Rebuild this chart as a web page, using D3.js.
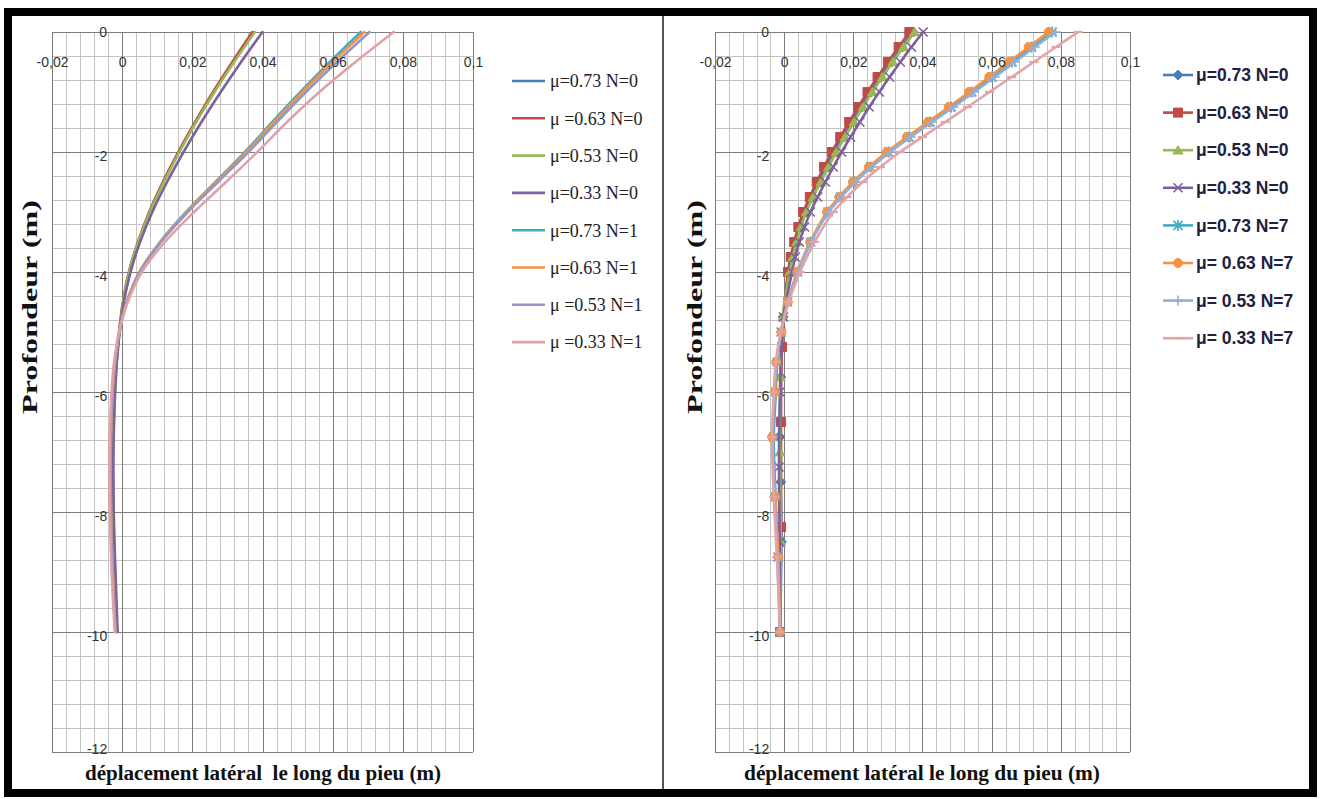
<!DOCTYPE html>
<html>
<head>
<meta charset="utf-8">
<script src="https://cdn.jsdelivr.net/npm/d3@7"></script>
<style>
  html, body { margin: 0; padding: 0; background: #fff; }
  svg { display: block; }
  text { white-space: pre; }
</style>
</head>
<body>
<svg id="chart" width="1321" height="799"></svg>
<script>
// ---------- Axis ticks ----------
const xTickValues = [-0.02, 0, 0.02, 0.04, 0.06, 0.08, 0.1];
const xTickLabels = ["-0,02", "0", "0,02", "0,04", "0,06", "0,08", "0,1"];
const yTickValues = [0, -2, -4, -6, -8, -10, -12];
const yTickLabels = ["0", "-2", "-4", "-6", "-8", "-10", "-12"];

// ---------- Left chart: N = 0 and N = 1 (depth in m, displacement in m) ----------
const leftDepth = [0, -0.5, -1, -1.5, -2, -2.5, -3, -3.5, -4, -4.5, -5, -5.5, -6, -6.5, -7, -7.5, -8, -8.5, -9, -9.5, -10];
const leftLabels = ["μ=0.73 N=0", "μ =0.63 N=0", "μ=0.53 N=0", "μ=0.33 N=0", "μ=0.73 N=1", "μ=0.63 N=1", "μ =0.53 N=1", "μ =0.33 N=1"];
const leftColors = ["#4A7EBB", "#BE4B48", "#98B954", "#7D60A0", "#46AAC5", "#F69240", "#9397C2", "#E3A0A6"];
const l073N0 = [0.0375, 0.0317, 0.0262, 0.0210, 0.0162, 0.0118, 0.0079, 0.0046, 0.0020, 0.0003, -0.0008, -0.0016, -0.0021, -0.0024, -0.0026, -0.0026, -0.0025, -0.0023, -0.0021, -0.0018, -0.0015];
const l063N0 = [0.0371, 0.0314, 0.0259, 0.0208, 0.0160, 0.0116, 0.0077, 0.0045, 0.0019, 0.0002, -0.0009, -0.0017, -0.0022, -0.0025, -0.0027, -0.0027, -0.0026, -0.0024, -0.0021, -0.0018, -0.0015];
const l053N0 = [0.0378, 0.0319, 0.0263, 0.0211, 0.0163, 0.0119, 0.0079, 0.0046, 0.0020, 0.0003, -0.0008, -0.0016, -0.0021, -0.0025, -0.0027, -0.0027, -0.0026, -0.0024, -0.0021, -0.0018, -0.0015];
const l033N0 = [0.0400, 0.0339, 0.0281, 0.0226, 0.0175, 0.0128, 0.0086, 0.0051, 0.0024, 0.0005, -0.0007, -0.0015, -0.0020, -0.0023, -0.0025, -0.0025, -0.0024, -0.0022, -0.0019, -0.0016, -0.0013];
const l073N1 = [0.0680, 0.0592, 0.0508, 0.0428, 0.0350, 0.0266, 0.0182, 0.0108, 0.0049, 0.0013, -0.0008, -0.0020, -0.0027, -0.0031, -0.0033, -0.0033, -0.0032, -0.0030, -0.0027, -0.0023, -0.0019];
const l063N1 = [0.0690, 0.0600, 0.0514, 0.0433, 0.0354, 0.0269, 0.0184, 0.0109, 0.0050, 0.0013, -0.0008, -0.0020, -0.0027, -0.0031, -0.0033, -0.0033, -0.0032, -0.0030, -0.0027, -0.0023, -0.0019];
const l053N1 = [0.0705, 0.0612, 0.0524, 0.0441, 0.0360, 0.0273, 0.0187, 0.0111, 0.0051, 0.0014, -0.0008, -0.0021, -0.0028, -0.0032, -0.0034, -0.0034, -0.0033, -0.0031, -0.0028, -0.0024, -0.0020];
const l033N1 = [0.0774, 0.0665, 0.0562, 0.0470, 0.0385, 0.0296, 0.0205, 0.0122, 0.0056, 0.0016, -0.0009, -0.0023, -0.0030, -0.0034, -0.0036, -0.0036, -0.0035, -0.0033, -0.0030, -0.0026, -0.0021];

// ---------- Right chart: N = 0 and N = 7 ----------
const rightLabels = ["μ=0.73 N=0", "μ=0.63 N=0", "μ=0.53 N=0", "μ=0.33 N=0", "μ=0.73 N=7", "μ= 0.63 N=7", "μ= 0.53 N=7", "μ= 0.33 N=7"];
const rightColors = ["#4A7EBB", "#BE4B48", "#98B954", "#7D60A0", "#46AAC5", "#F69240", "#8FB0DC", "#E4A3A6"];
const rightMarkers = ["diamond", "square", "triangle", "x", "star", "circle", "plus", "dash"];

// upper nodes shared by the N=0 runs, lower nodes differ per run
const rDepthN0Top = [0, -0.25, -0.5, -0.75, -1, -1.25, -1.5, -1.75, -2, -2.25, -2.5, -2.75, -3, -3.25, -3.5, -3.75, -4];
const rDepth073N0Tail = [-4.75, -5.75, -6.75, -7.5, -8.5, -10];
const rDepth063N0Tail = [-5.25, -6.5, -8.25, -10];
const rDepth053N0Tail = [-4.75, -5.75, -7, -8.5, -10];
const rDepth033N0Tail = [-4.75, -6, -7.25, -8.5, -10];
const r073N0 = [0.0372, 0.0339, 0.0308, 0.0277, 0.0248, 0.0220, 0.0194, 0.0168, 0.0143, 0.0120, 0.0098, 0.0077, 0.0058, 0.0043, 0.0031, 0.0021, 0.0013,
                -0.0003, -0.0010, -0.0012, -0.0010, -0.0008, -0.0012];
const r063N0 = [0.0362, 0.0331, 0.0300, 0.0270, 0.0241, 0.0214, 0.0188, 0.0162, 0.0138, 0.0115, 0.0094, 0.0074, 0.0055, 0.0041, 0.0029, 0.0019, 0.0011,
                -0.0006, -0.0009, -0.0009, -0.0012];
const r053N0 = [0.0377, 0.0345, 0.0314, 0.0284, 0.0255, 0.0228, 0.0202, 0.0176, 0.0151, 0.0128, 0.0106, 0.0084, 0.0064, 0.0049, 0.0036, 0.0025, 0.0016,
                -0.0004, -0.0011, -0.0012, -0.0010, -0.0012];
const r033N0 = [0.0402, 0.0368, 0.0336, 0.0305, 0.0275, 0.0246, 0.0219, 0.0192, 0.0166, 0.0142, 0.0119, 0.0097, 0.0076, 0.0059, 0.0044, 0.0032, 0.0023,
                -0.0002, -0.0012, -0.0015, -0.0013, -0.0012];

const rDepthN7 = [0, -0.25, -0.5, -0.75, -1, -1.25, -1.5, -1.75, -2, -2.25, -2.5, -2.75, -3,
                  -3.5, -4, -4.5, -5, -5.5, -6, -6.75, -7.75, -8.75, -10];
const r073N7 = [0.0775, 0.0716, 0.0659, 0.0601, 0.0543, 0.0483, 0.0422, 0.0361, 0.0302, 0.0250, 0.0203, 0.0163, 0.0127,
                0.0077, 0.0039, 0.0010, -0.0009, -0.0020, -0.0024, -0.0030, -0.0025, -0.0018, -0.0012];
const r063N7 = [0.0765, 0.0707, 0.0650, 0.0593, 0.0535, 0.0476, 0.0416, 0.0355, 0.0297, 0.0245, 0.0199, 0.0159, 0.0124,
                0.0075, 0.0038, 0.0010, -0.0008, -0.0023, -0.0026, -0.0035, -0.0026, -0.0017, -0.0012];
const r053N7 = [0.0785, 0.0725, 0.0667, 0.0609, 0.0550, 0.0490, 0.0428, 0.0366, 0.0306, 0.0253, 0.0206, 0.0165, 0.0129,
                0.0078, 0.0040, 0.0011, -0.0009, -0.0022, -0.0028, -0.0033, -0.0028, -0.0020, -0.0012];
const r033N7 = [0.0850, 0.0786, 0.0722, 0.0658, 0.0594, 0.0530, 0.0466, 0.0400, 0.0335, 0.0278, 0.0227, 0.0182, 0.0142,
                0.0088, 0.0046, 0.0013, -0.0010, -0.0024, -0.0030, -0.0035, -0.0030, -0.0021, -0.0012];

// ---------- Assemble series ----------
const zip = (depths, values) => values.map((v, i) => ({ d: depths[i], v: v }));

const leftSeries = [l073N0, l063N0, l053N0, l033N0, l073N1, l063N1, l053N1, l033N1].map((vals, i) => ({
  label: leftLabels[i], color: leftColors[i], points: zip(leftDepth, vals)
}));

const rightDepths = [
  rDepthN0Top.concat(rDepth073N0Tail), rDepthN0Top.concat(rDepth063N0Tail),
  rDepthN0Top.concat(rDepth053N0Tail), rDepthN0Top.concat(rDepth033N0Tail),
  rDepthN7, rDepthN7, rDepthN7, rDepthN7
];
const rightSeries = [r073N0, r063N0, r053N0, r033N0, r073N7, r063N7, r053N7, r033N7].map((vals, i) => ({
  label: rightLabels[i], color: rightColors[i], marker: rightMarkers[i], points: zip(rightDepths[i], vals)
}));

// ---------- Drawing ----------
const svg = d3.select("#chart");
svg.append("rect").attr("width", 1321).attr("height", 799).attr("fill", "#fff");

const TICK_FONT = "'Liberation Sans', Arial, sans-serif";
const SERIF = "'Liberation Serif', 'Times New Roman', serif";

function markerPath(type, s) {
  const h = s / 2;
  switch (type) {
    case "diamond":  return `M0,${-h - 0.5}L${h + 0.5},0L0,${h + 0.5}L${-h - 0.5},0Z`;
    case "square":   return `M${-h},${-h}H${h}V${h}H${-h}Z`;
    case "triangle": return `M0,${-h}L${h + 0.5},${h * 0.85}L${-h - 0.5},${h * 0.85}Z`;
    case "x":        return `M${-h},${-h}L${h},${h}M${-h},${h}L${h},${-h}`;
    case "star":     return `M${-h},${-h}L${h},${h}M${-h},${h}L${h},${-h}M0,${-h - 1}V${h + 1}`;
    case "circle":   return `M${h},0A${h},${h} 0 1,1 ${-h},0A${h},${h} 0 1,1 ${h},0Z`;
    case "plus":     return `M${-h - 0.5},0H${h + 0.5}M0,${-h - 0.5}V${h + 0.5}`;
    case "dash":     return `M${-h},0H${h}`;
  }
}
const filledMarkers = new Set(["diamond", "square", "triangle", "circle"]);

function drawMarker(sel, type, color) {
  const filled = filledMarkers.has(type);
  sel.append("path")
    .attr("d", markerPath(type, 9))
    .attr("fill", filled ? color : "none")
    .attr("stroke", color)
    .attr("stroke-width", filled ? 1 : (type === "dash" ? 2.2 : 1.6));
}

function drawPanel(cfg) {
  const g = svg.append("g");
  const x = d3.scaleLinear().domain([-0.02, 0.1]).range([cfg.x0, cfg.x1]);
  const y = d3.scaleLinear().domain([-12, 0]).range([752, 32]);

  // minor grid (5 subdivisions per major step)
  const minorX = d3.range(0, 31).map(i => -0.02 + i * 0.004);
  const minorY = d3.range(0, 31).map(i => -12 + i * 0.4);
  const grid = g.append("g").attr("shape-rendering", "crispEdges");
  grid.selectAll(".mx").data(minorX).join("line")
    .attr("x1", d => Math.round(x(d)) + 0.5).attr("x2", d => Math.round(x(d)) + 0.5)
    .attr("y1", y(0)).attr("y2", y(-12))
    .attr("stroke", "#c4c4c4").attr("stroke-width", 1);
  grid.selectAll(".my").data(minorY).join("line")
    .attr("x1", x(-0.02)).attr("x2", x(0.1))
    .attr("y1", d => Math.round(y(d)) + 0.5).attr("y2", d => Math.round(y(d)) + 0.5)
    .attr("stroke", "#c4c4c4").attr("stroke-width", 1);
  // major grid
  grid.selectAll(".Mx").data(xTickValues).join("line")
    .attr("x1", d => Math.round(x(d)) + 0.5).attr("x2", d => Math.round(x(d)) + 0.5)
    .attr("y1", y(0)).attr("y2", y(-12))
    .attr("stroke", "#7c7c7c").attr("stroke-width", 1);
  grid.selectAll(".My").data(yTickValues).join("line")
    .attr("x1", x(-0.02)).attr("x2", x(0.1))
    .attr("y1", d => Math.round(y(d)) + 0.5).attr("y2", d => Math.round(y(d)) + 0.5)
    .attr("stroke", "#7c7c7c").attr("stroke-width", 1);

  // series
  const line = d3.line().x(p => x(p.v)).y(p => y(p.d)).curve(d3.curveCatmullRom.alpha(0.5));
  cfg.series.forEach(s => {
    g.append("path").attr("d", line(s.points))
      .attr("fill", "none").attr("stroke", s.color)
      .attr("stroke-width", 2.6).attr("stroke-linejoin", "round").attr("stroke-linecap", "round");
    if (s.marker) {
      s.points.forEach(p => {
        const m = g.append("g").attr("transform", `translate(${x(p.v)},${y(p.d)})`);
        drawMarker(m, s.marker, s.color);
      });
    }
  });

  // tick labels via d3 axes
  const xAxis = g.append("g").attr("transform", `translate(0,${y(0)})`)
    .call(d3.axisBottom(x).tickValues(xTickValues).tickFormat((d, i) => xTickLabels[i]).tickSize(0).tickPadding(25));
  xAxis.select(".domain").remove();
  xAxis.selectAll("text").attr("font-family", TICK_FONT).attr("font-size", 14).attr("fill", "#333");

  const lastY = yTickValues.length - 1;
  const yAxis = g.append("g").attr("transform", `translate(${x(0)},0)`)
    .call(d3.axisLeft(y).tickValues(yTickValues).tickFormat((d, i) => yTickLabels[i]).tickSize(0).tickPadding(15));
  yAxis.select(".domain").remove();
  yAxis.selectAll("text").attr("font-family", TICK_FONT).attr("font-size", 14).attr("fill", "#333")
    .attr("y", (d, i) => (i === 0 ? 0 : (i === lastY ? -3 : 4)));

  // axis titles
  g.append("text")
    .attr("x", cfg.xTitleX).attr("y", 780)
    .attr("text-anchor", "middle")
    .attr("font-family", SERIF).attr("font-weight", "bold").attr("font-size", 20)
    .attr("textLength", 356).attr("lengthAdjust", "spacingAndGlyphs")
    .attr("fill", "#111")
    .text(cfg.xTitle);
  g.append("text")
    .attr("transform", `translate(${cfg.yTitleX},307) rotate(-90)`)
    .attr("text-anchor", "middle").attr("dy", "0.35em")
    .attr("font-family", SERIF).attr("font-weight", "bold").attr("font-size", 20)
    .attr("textLength", 214).attr("lengthAdjust", "spacingAndGlyphs")
    .attr("fill", "#111")
    .text("Profondeur (m)");

  // legend
  const lg = g.append("g");
  cfg.series.forEach((s, i) => {
    const ly = cfg.legY0 + i * cfg.legStep;
    lg.append("line").attr("x1", cfg.legX0).attr("x2", cfg.legX1).attr("y1", ly).attr("y2", ly)
      .attr("stroke", s.color).attr("stroke-width", 2.6);
    if (s.marker) {
      const m = lg.append("g").attr("transform", `translate(${(cfg.legX0 + cfg.legX1) / 2},${ly})`);
      drawMarker(m, s.marker, s.color);
    }
    lg.append("text").attr("x", cfg.legTextX).attr("y", ly).attr("dy", "0.35em")
      .attr("font-family", cfg.legFont).attr("font-weight", cfg.legWeight)
      .attr("font-size", cfg.legSize).attr("fill", cfg.legColor)
      .text(s.label);
  });
}

drawPanel({
  x0: 52, x1: 473, series: leftSeries,
  xTitle: "déplacement latéral  le long du pieu (m)", xTitleX: 263, yTitleX: 30,
  legY0: 81, legStep: 37.3, legX0: 512, legX1: 545, legTextX: 550,
  legFont: SERIF, legWeight: "normal", legSize: 18, legColor: "#222"
});
drawPanel({
  x0: 715, x1: 1130, series: rightSeries,
  xTitle: "déplacement latéral le long du pieu (m)", xTitleX: 922, yTitleX: 695,
  legY0: 75, legStep: 37.6, legX0: 1163, legX1: 1193, legTextX: 1196,
  legFont: TICK_FONT, legWeight: "bold", legSize: 17.5, legColor: "#1e2140"
});

// frame and panel divider
svg.append("line").attr("x1", 663).attr("x2", 663).attr("y1", 14).attr("y2", 790)
  .attr("stroke", "#555").attr("stroke-width", 2);
svg.append("rect").attr("x", 8).attr("y", 12).attr("width", 1305).attr("height", 781)
  .attr("fill", "none").attr("stroke", "#000").attr("stroke-width", 8);
</script>
</body>
</html>
